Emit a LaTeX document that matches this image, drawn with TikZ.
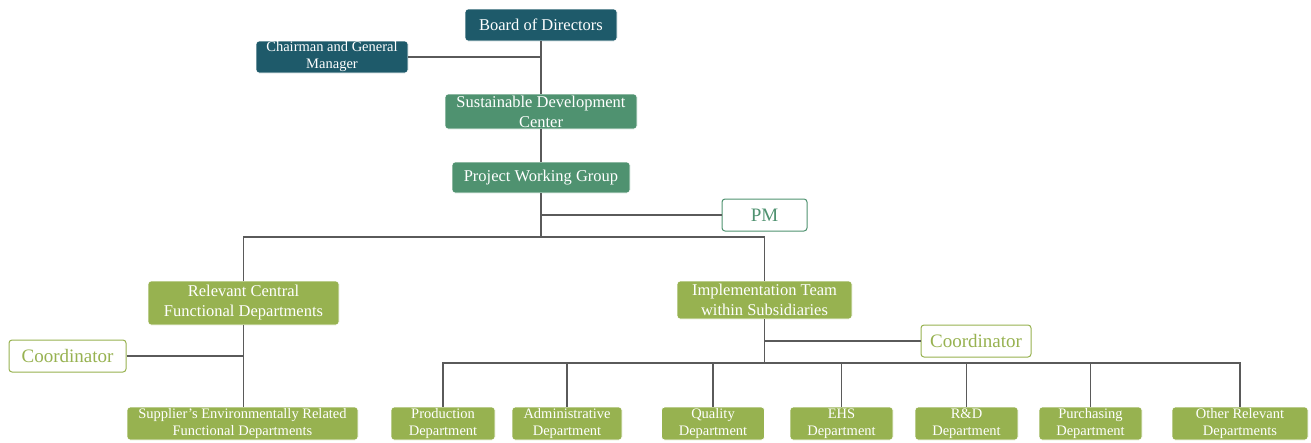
\documentclass[tikz,border=0pt]{standalone}
\usepackage{fontspec}
\setmainfont{Liberation Serif}
\definecolor{boardteal}{HTML}{1E5A6A}
\definecolor{centregreen}{HTML}{4F9270}
\definecolor{teamolive}{HTML}{97B250}
\definecolor{linkgrey}{HTML}{5A5A5A}
\tikzset{
  unit/.style={rounded corners=3pt, inner sep=0pt, align=center,
    text=white, draw=white, line width=0.8pt,
    font=\fontsize{16.5}{20}\selectfont},
  small/.style={font=\fontsize{14.5}{17}\selectfont},
  tealbox/.style={unit, fill=boardteal},
  greenbox/.style={unit, fill=centregreen},
  olivebox/.style={unit, fill=teamolive},
  rolebox/.style={unit, fill=white, draw=#1, text=#1, line width=1pt,
    font=\fontsize{19}{22}\selectfont},
  dept/.style={olivebox, small, minimum height=33pt},
  link/.style={draw=linkgrey, line width=1.3pt}
}
\begin{document}
\begin{tikzpicture}[x=1pt, y=-1pt]
    \useasboundingbox (0,0) rectangle (1311,442);
    % top of the structure
    \node[tealbox, minimum width=152pt, minimum height=32pt] (board) at (541,25) {Board of Directors};
    \node[tealbox, small, minimum width=152pt, minimum height=32pt] (chair) at (332,57) {Chairman and General\\Manager};
    \node[greenbox, minimum width=192pt, minimum height=35pt] (sdc) at (541,111.5) {Sustainable Development\\Center};
    \node[greenbox, minimum width=178pt, minimum height=31pt] (pwg) at (541,177.5) {Project Working Group};
    \node[rolebox=centregreen, minimum width=85pt, minimum height=32pt] (pm) at (764.5,215) {PM};
    % the two branches
    \node[olivebox, minimum width=191pt, minimum height=44pt] (central) at (243.5,303) {Relevant Central\\Functional Departments};
    \node[olivebox, minimum width=175pt, minimum height=38pt] (team) at (764.5,300) {Implementation Team\\within Subsidiaries};
    \node[rolebox=teamolive, minimum width=117pt, minimum height=32pt] (coordl) at (67.5,356) {Coordinator};
    \node[rolebox=teamolive, minimum width=110pt, minimum height=32pt] (coordr) at (976,341) {Coordinator};
    % departments
    \node[dept, minimum width=231pt] (supplier) at (242.5,423.5) {Supplier’s Environmentally Related\\Functional Departments};
    \node[dept, minimum width=104pt] (prod) at (443,423.5) {Production\\Department};
    \node[dept, minimum width=110pt] (admin) at (567,423.5) {Administrative\\Department};
    \node[dept, minimum width=103pt] (quality) at (713,423.5) {Quality\\Department};
    \node[dept, minimum width=103pt] (ehs) at (841.5,423.5) {EHS\\Department};
    \node[dept, minimum width=103pt] (rnd) at (966.5,423.5) {R\&D\\Department};
    \node[dept, minimum width=103pt] (purch) at (1090.5,423.5) {Purchasing\\Department};
    \node[dept, minimum width=136pt] (other) at (1240,423.5) {Other Relevant\\Departments};
    \coordinate (split) at (541,237);
    \coordinate (bus) at (764.5,363);
    \begin{scope}[link]
    \draw (board) -- (sdc);
    \draw (chair.east) -- (chair.east -| board.south);
    \draw (sdc) -- (pwg);
    \draw (pwg.south) -- (split);
    \draw (pm.west) -- (pm.west -| split);
    \draw (central.north) |- (split) -| (team.north);
    \draw (central.south) -- (central.south |- supplier.north);
    \draw (coordl.east) -- (coordl.east -| central.south);
    \draw (team.south) -- (bus);
    \draw (coordr.west) -- (coordr.west -| team.south);
    \foreach \d in {prod,admin,quality,ehs,rnd,purch,other}
        \draw (\d.north) |- (bus);
    \end{scope}
\end{tikzpicture}
\end{document}
